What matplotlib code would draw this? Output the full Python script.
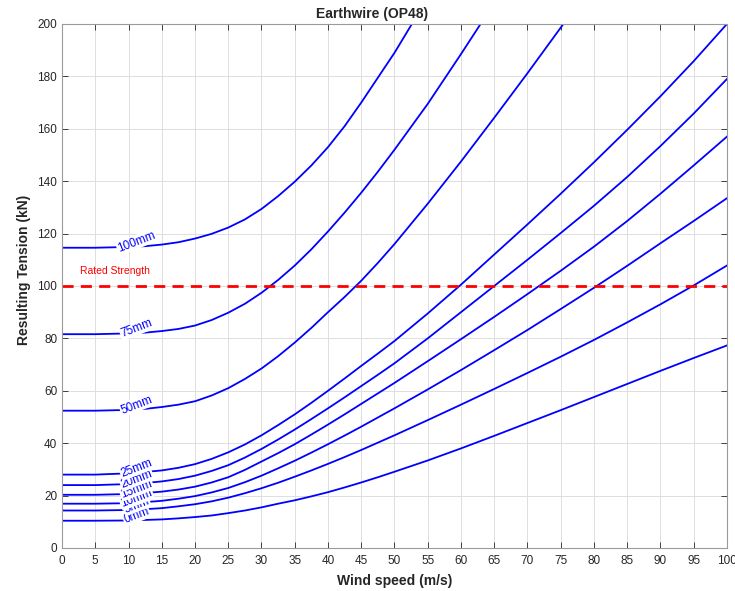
import matplotlib
matplotlib.use('Agg')
import matplotlib.pyplot as plt
import numpy as np

plt.rcParams['font.family'] = ['Liberation Sans', 'DejaVu Sans']

# wind speed (m/s), ice thickness labels and resulting tension (kN) per curve
wind = [0, 5, 10, 12.5, 15, 17.5, 20, 22.5, 25, 27.5, 30, 32.5, 35, 37.5, 40, 42.5, 45, 47.5, 50,
        55, 60, 65, 70, 75, 80, 85, 90, 95, 100]
ice = ['0mm', '5mm', '10mm', '15mm', '20mm', '25mm', '50mm', '75mm', '100mm']

t0 = [10.4, 10.4, 10.5, 10.7, 10.9, 11.3, 11.8, 12.4, 13.3, 14.3, 15.5, 16.9, 18.2, 19.7, 21.3, 23.1, 25.0, 27.0, 29.1,
      33.4, 38.0, 42.8, 47.7, 52.6, 57.6, 62.6, 67.6, 72.5, 77.3]
t5 = [14.3, 14.3, 14.5, 14.8, 15.2, 15.9, 16.7, 17.8, 19.2, 20.9, 22.8, 24.9, 27.2, 29.6, 32.1, 34.7, 37.4, 40.2, 43.0,
      48.8, 54.7, 60.7, 66.8, 73.0, 79.4, 86.1, 93.0, 100.2, 107.8]
t10 = [16.9, 16.9, 17.1, 17.5, 18.0, 18.8, 19.8, 21.2, 22.9, 25.1, 27.6, 30.4, 33.3, 36.4, 39.6, 42.9, 46.3, 49.8, 53.3,
       60.5, 67.9, 75.5, 83.2, 91.2, 99.3, 107.7, 116.3, 124.8, 133.5]
t15 = [20.3, 20.3, 20.6, 21.0, 21.5, 22.3, 23.4, 25.0, 27.0, 29.8, 33.0, 36.2, 39.6, 43.3, 47.1, 51.0, 55.0, 59.0, 63.0,
       71.3, 79.7, 88.2, 96.9, 105.8, 115.0, 124.8, 135.2, 146.0, 157.0]
t20 = [24.0, 24.0, 24.4, 24.8, 25.4, 26.3, 27.6, 29.4, 31.6, 34.5, 37.8, 41.4, 45.2, 49.2, 53.3, 57.5, 61.8, 66.1, 70.5,
       80.0, 90.0, 100.0, 110.0, 120.2, 130.6, 141.6, 153.4, 165.8, 179.0]
t25 = [28.0, 28.0, 28.5, 29.0, 29.6, 30.6, 32.0, 34.0, 36.5, 39.5, 43.0, 46.9, 51.0, 55.4, 60.0, 64.7, 69.5, 74.2, 79.0,
       89.5, 100.5, 112.0, 123.5, 135.2, 147.2, 159.6, 172.4, 185.8, 200.0]
t50 = [52.4, 52.4, 52.7, 53.1, 53.8, 54.7, 56.0, 58.2, 61.0, 64.5, 68.5, 73.2, 78.4, 84.0, 90.0, 95.8, 102.0, 108.8, 116.0,
       131.4, 147.5, 164.2, 181.2, 198.6, 216.0]
t75 = [81.6, 81.6, 81.9, 82.2, 82.8, 83.6, 84.9, 87.0, 89.8, 93.2, 97.4, 102.3, 107.8, 114.0, 120.8, 128.0, 135.6, 143.6, 152.0,
       169.5, 188.5, 208.0]
t100 = [114.6, 114.6, 114.9, 115.2, 115.8, 116.7, 118.1, 119.9, 122.3, 125.4, 129.4, 134.3, 139.8, 146.0, 153.0, 161.0, 170.0, 179.5, 189.0,
        210.0]

rated = 100

curves = [t0, t5, t10, t15, t20, t25, t50, t75, t100]

fig = plt.figure(figsize=(7.35, 5.91), dpi=100)
ax = fig.add_axes([0.0844, 0.0728, 0.9046, 0.8866])

axc = '#262626'
for i, (lab, vals) in enumerate(zip(ice, curves)):
    x = wind[:len(vals)]
    ax.plot(x, vals, color='blue', lw=1.3, zorder=2)
    ax.text(11.2, vals[2] + 1.9, lab, color='blue', fontsize=8.5, rotation=21,
            ha='center', va='center', zorder=3 + i,
            bbox=dict(facecolor='white', edgecolor='none', pad=0.6))

ax.axhline(rated, color='red', lw=2, linestyle=(0, (4, 2.6)), zorder=2)
ax.text(2.7, rated + 4.5, 'Rated Strength', color='red', fontsize=7.5)

ax.set_xlim(0, 100)
ax.set_ylim(0, 200)
ax.set_xticks(np.arange(0, 101, 5))
ax.set_yticks(np.arange(0, 201, 20))
ax.grid(True, color='#dedede', lw=0.7)
ax.set_axisbelow(True)
ax.tick_params(direction='in', top=True, right=True, length=4, width=0.6,
               colors=axc, labelsize=8.5, labelcolor=axc)
ax.tick_params(axis='x', pad=5)
for s in ax.spines.values():
    s.set_color('#9a9a9a')
    s.set_linewidth(0.8)

ax.set_xlabel('Wind speed (m/s)', fontsize=10, fontweight='bold', color=axc, labelpad=5)
ax.set_ylabel('Resulting Tension (kN)', fontsize=10, fontweight='bold', color=axc)
ax.yaxis.set_label_coords(-0.046, 0.53)
ax.set_title('Earthwire (OP48)', fontsize=10, fontweight='bold', color=axc, x=0.466, pad=4)

fig.savefig('out.png', dpi=100)
